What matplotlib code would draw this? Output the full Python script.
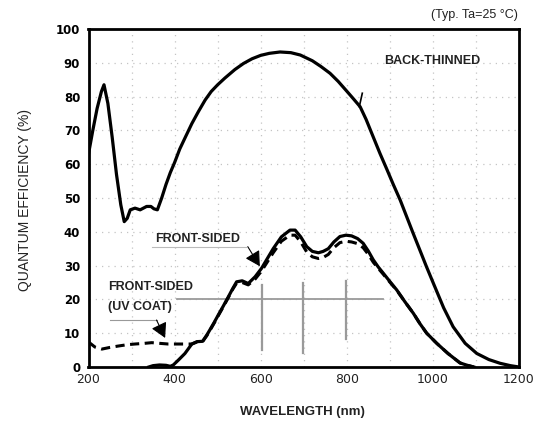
import matplotlib
matplotlib.use("Agg")
import matplotlib.pyplot as plt

# ---------------- data ----------------
bt_wl = [200, 210, 220, 230, 236, 245, 255, 265, 275, 283, 290, 297, 308, 320, 335, 345,
         352, 360, 370, 380, 390, 400, 412, 425, 440, 455, 471, 485, 500, 517, 540, 560,
         580, 600, 620, 645, 670, 692, 720, 740, 761, 780, 800, 815, 831, 845, 860, 877,
         893, 908, 924, 939, 954, 970, 985, 1001, 1025, 1047, 1075, 1102, 1130, 1156, 1180, 1200]
bt_qe = [63, 70, 76.5, 81.5, 83.5, 78, 68, 57, 48, 43, 44, 46.5, 47, 46.5, 47.5, 47.5,
         46.8, 46.5, 50, 54, 57.5, 60.5, 64.5, 68, 72, 75.5, 79, 81.5, 83.5, 85.5, 88, 89.8,
         91.2, 92.2, 92.8, 93.2, 93, 92.3, 90.6, 88.9, 86.9, 84.5, 81.6, 79.4, 77, 73.2, 68.5, 63.2,
         58.5, 54, 49.4, 44.5, 39.6, 34.5, 29.7, 24.8, 17.5, 11.9, 7, 4, 2.2, 1.1, 0.4, 0]

fs_wl = [340, 350, 365, 380, 390, 397, 410, 424, 440, 452, 465, 475, 482, 492, 501.5, 513,
         525, 535, 544, 557, 571, 587, 602, 615, 629, 648, 668, 680, 693, 707, 720, 734,
         745, 757, 770, 784, 798, 811, 825, 838, 850, 861.5, 873, 885, 900, 916, 935, 954.5,
         970, 985.6, 1009, 1035, 1063, 1080, 1095]
fs_qe = [0, 0.4, 0.6, 0.5, 0.2, 0.6, 2.2, 4, 6.8, 7.5, 7.6, 9.5, 11, 13.2, 15.4, 18,
         20.8, 23.2, 25.2, 25.5, 24.7, 26.7, 29.2, 32, 35, 38.5, 40.5, 40.5, 38.5, 35.6, 34.2, 33.8,
         34.2, 35, 37, 38.6, 39, 38.8, 38, 36.6, 34.3, 31.7, 29.6, 27.7, 25.3, 22.8, 19.3, 15.9,
         12.8, 10, 7, 4, 1.2, 0.5, 0]

uv_wl = [200, 215, 231, 250, 269, 290, 308, 330, 347, 365, 385, 405, 424, 440, 452, 465,
         475, 482, 492, 501.5, 513, 525, 535, 544, 557, 571, 587, 602, 615, 629, 648, 668,
         680, 693, 707, 720, 734, 745, 757, 770, 784, 798, 811, 825, 838, 850, 861.5, 873,
         885, 900, 916, 935, 954.5, 970, 985.6, 1009, 1035, 1063, 1080, 1095]
uv_qe = [7.4, 5.9, 5.3, 5.8, 6.2, 6.6, 6.8, 7, 7.2, 7, 6.8, 6.8, 6.8, 6.8, 7.4, 7.5,
         9.3, 10.8, 13, 15.2, 17.8, 20.6, 23, 24.8, 25, 24.3, 26, 28.4, 31, 33.8, 37.2, 39,
         39, 37, 34, 32.6, 32.1, 32.4, 33.3, 35.3, 36.8, 37.2, 37, 36.5, 35.3, 33.3, 31, 29.2,
         27.4, 25.1, 22.7, 19.3, 15.9, 12.8, 10, 7, 4, 1.2, 0.5, 0]

x_ticks = [200, 400, 600, 800, 1000, 1200]
y_ticks = [0, 10, 20, 30, 40, 50, 60, 70, 80, 90, 100]

# gray reference marks present in the original chart
hline_y, hline_x0, hline_x1 = 20, 405, 885
vlines = [(602, 5, 24.3), (699, 4.2, 25), (798, 8.2, 25.5)]

# ---------------- figure ----------------
W, H = 535, 432
fig = plt.figure(figsize=(W / 100, H / 100), dpi=100)
ax = fig.add_axes([88.5 / W, 1 - 367 / H, 430.5 / W, 338 / H])
plt.rcParams['font.family'] = ['Liberation Sans', 'DejaVu Sans']

ax.set_xlim(200, 1200)
ax.set_ylim(0, 100)
ax.set_xticks(x_ticks)
ax.set_yticks(y_ticks)
ax.set_xticks(range(200, 1201, 100), minor=True)
ax.grid(True, which='both', color='#c4c4c4', linestyle=(0, (1, 4)), linewidth=0.9)
ax.set_axisbelow(True)
ax.tick_params(which='both', length=0)
ax.tick_params(axis='x', pad=4, labelsize=9)
ax.tick_params(axis='y', pad=6, labelsize=8.5)
for lab in ax.get_yticklabels():
    lab.set_fontweight('bold')
for lab in ax.get_xticklabels():
    lab.set_color('#222222')
for s in ax.spines.values():
    s.set_linewidth(2.0)
    s.set_color('black')

# gray reference marks
ax.plot([hline_x0, hline_x1], [hline_y, hline_y], color='#9a9a9a', lw=1.3, zorder=1)
for vx, y0, y1 in vlines:
    ax.plot([vx, vx], [y0, y1], color='#9a9a9a', lw=1.6, zorder=1)

# curves
ax.plot(bt_wl, bt_qe, color='black', lw=2.3, solid_capstyle='round', solid_joinstyle='round', zorder=3)
ax.plot(fs_wl, fs_qe, color='black', lw=2.3, solid_joinstyle='round', zorder=3)
ax.plot(uv_wl, uv_qe, color='black', lw=2.2, linestyle=(0, (3, 1.8)), zorder=3)

# labels inside plot
ax.text(999, 90.5, 'BACK-THINNED', ha='center', va='center', fontsize=9,
        fontweight='bold', color='#222222')
ax.plot([829, 836], [77.0, 81.0], color='black', lw=1.2, zorder=3)

ax.text(453, 38, 'FRONT-SIDED', ha='center', va='center', fontsize=9,
        fontweight='bold', color='#222222')
ax.plot([347, 567], [35.6, 35.6], color='#bbbbbb', lw=0.8, zorder=2)
ax.annotate('', xy=(598, 29.8), xytext=(570, 35.6),
            arrowprops=dict(arrowstyle='-|>,head_length=0.9,head_width=0.5',
                            color='black', lw=0.8, shrinkA=0, shrinkB=0), zorder=4)

ax.text(246, 23.6, 'FRONT-SIDED', ha='left', va='center', fontsize=9,
        fontweight='bold', color='#222222')
ax.text(246, 17.8, '(UV COAT)', ha='left', va='center', fontsize=9,
        fontweight='bold', color='#222222')
ax.plot([250, 358], [13.9, 13.9], color='#999999', lw=0.8, zorder=2)
ax.annotate('', xy=(378, 8.6), xytext=(358, 13.9),
            arrowprops=dict(arrowstyle='-|>,head_length=0.9,head_width=0.5',
                            color='black', lw=0.8, shrinkA=0, shrinkB=0), zorder=4)

# outside texts
fig.text(518 / W, 1 - 15 / H, '(Typ. Ta=25 °C)', ha='right', va='center',
         fontsize=9, color='#222222')
fig.text(25 / W, 1 - 200 / H, 'QUANTUM EFFICIENCY (%)', rotation=90,
         ha='center', va='center', fontsize=10, color='#222222')
fig.text(302 / W, 1 - 412 / H, 'WAVELENGTH (nm)', ha='center', va='center',
         fontsize=9.5, fontweight='bold', color='#222222')

fig.savefig('out.png', dpi=100)
